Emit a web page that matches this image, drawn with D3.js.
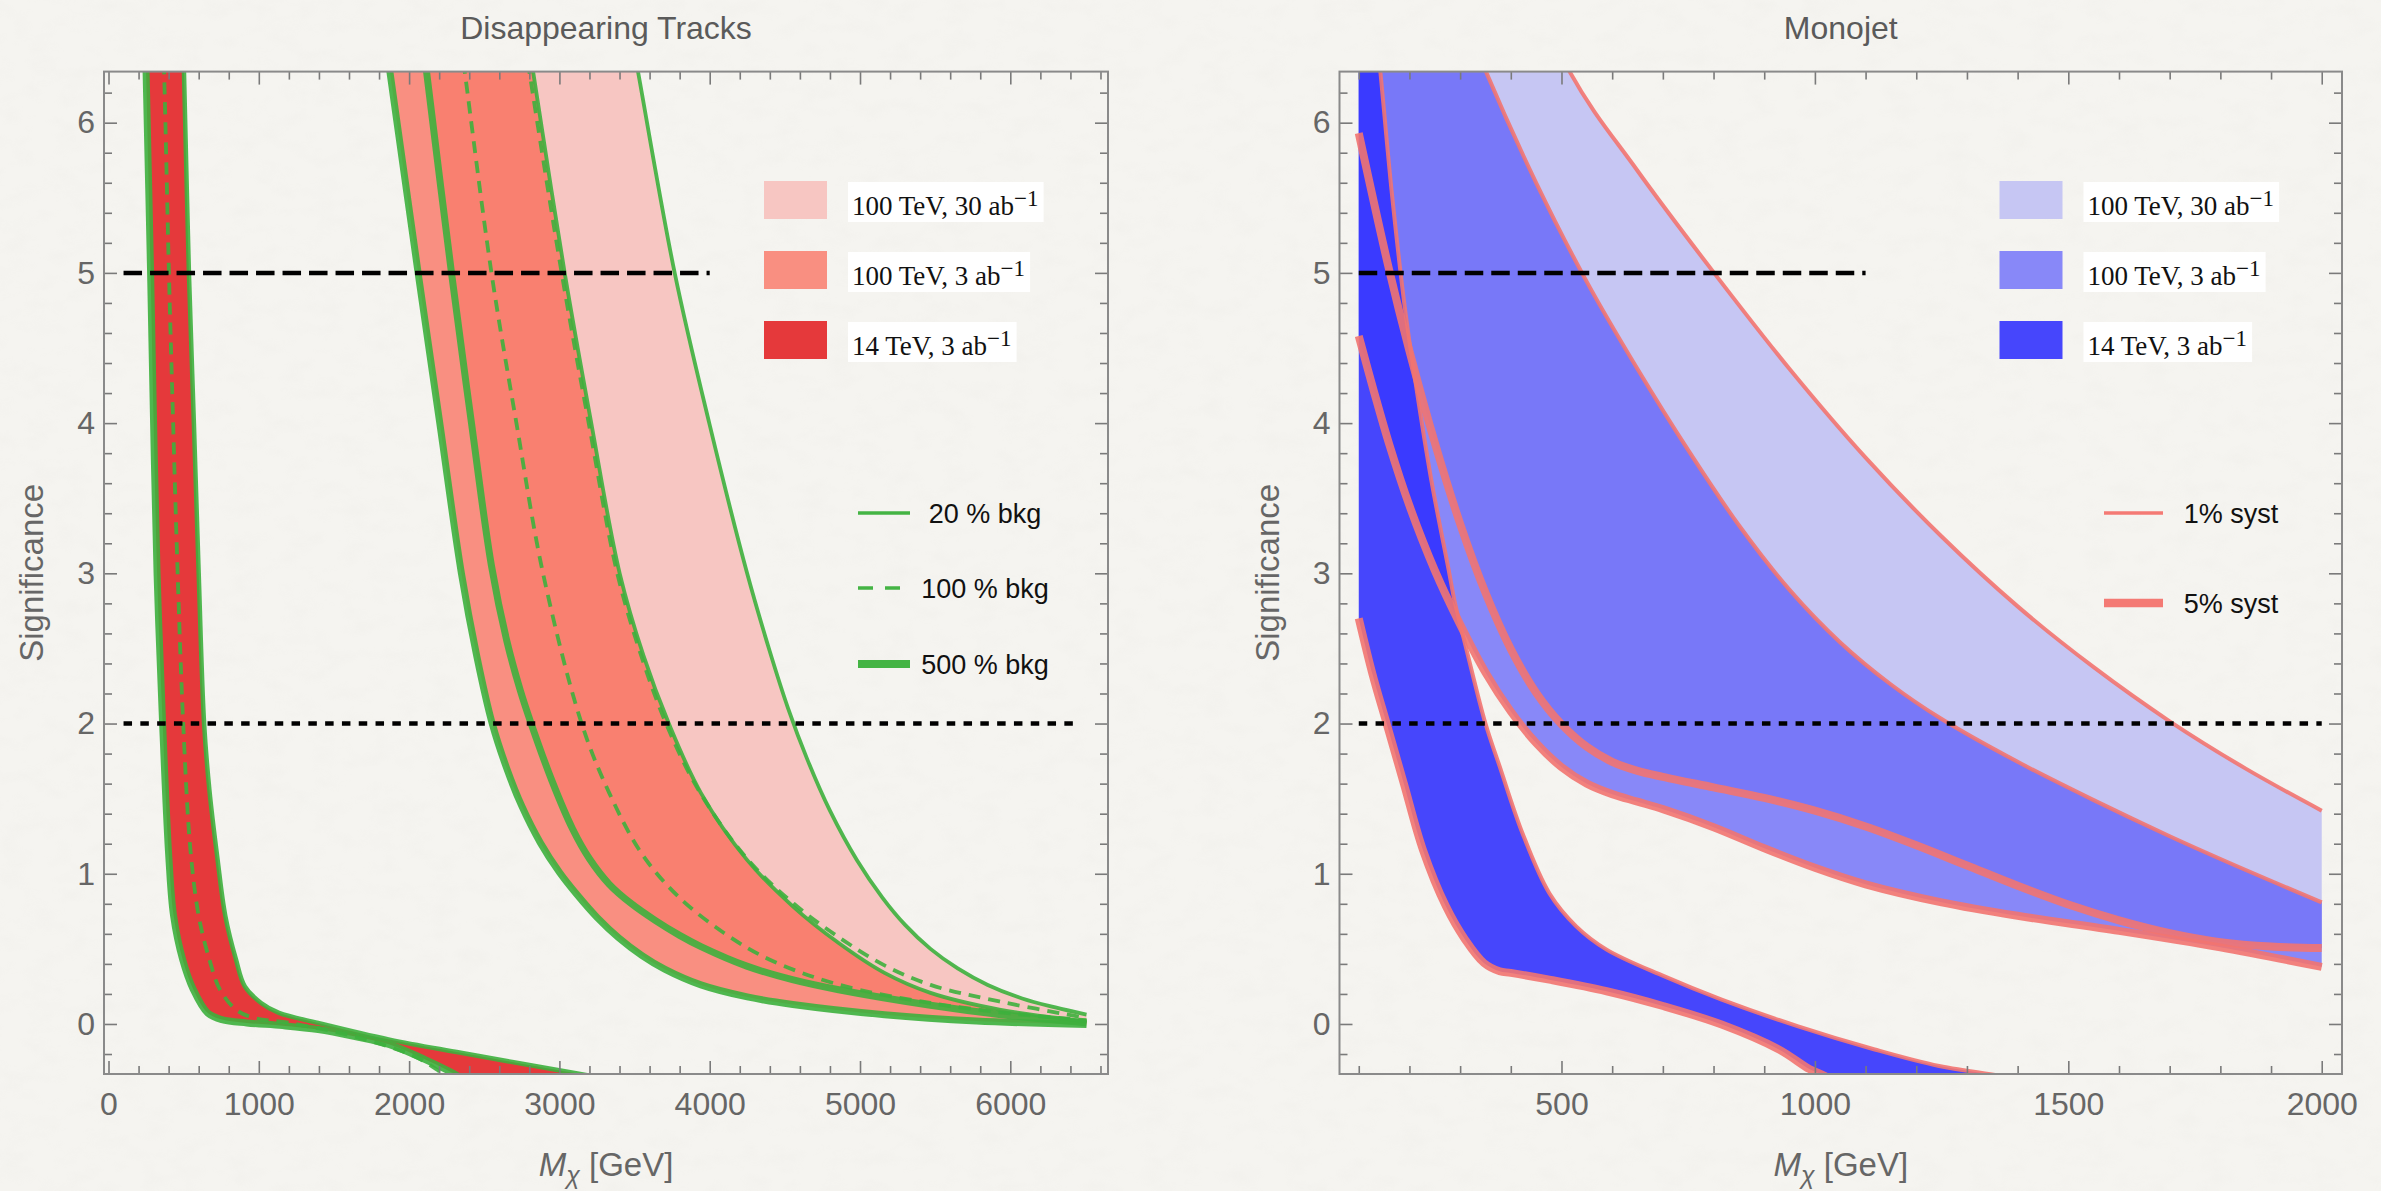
<!DOCTYPE html>
<html>
<head>
<meta charset="utf-8">
<script src="https://cdn.jsdelivr.net/npm/d3@7"></script>
<style>
  html, body { margin: 0; padding: 0; background: #f5f4f0; }
  svg { display: block; }
</style>
</head>
<body>
<svg id="chart" width="2381" height="1191"></svg>
<script>
// ---------------- axis ticks ----------------
const sigMajor = [0, 1, 2, 3, 4, 5, 6];
const sigMinor = d3.range(-0.2, 6.3, 0.2).map(v => +v.toFixed(1)).filter(v => !sigMajor.includes(v));
const tracksMassMajor = [0, 1000, 2000, 3000, 4000, 5000, 6000];
const tracksMassMinor = d3.range(200, 6700, 200).filter(v => v % 1000 !== 0);
const monojetMassMajor = [500, 1000, 1500, 2000];
const monojetMassMinor = d3.range(100, 2001, 100).filter(v => v % 500 !== 0);

// ---------------- Disappearing Tracks: [M_chi (GeV), significance] ----------------
const tracks14_bkg20  = [[488,6.8],[502,6.34],[535,5.0],[568,4.0],[600,3.0],[636,2.0],[672,1.55],[725,1.1],[777,0.72],[848,0.43],[907,0.25],[1015,0.14],[1134,0.074],[1395,0.007],[1870,-0.104],[2344,-0.192],[3120,-0.33],[3400,-0.38]];
const tracks14_bkg100 = [[355,6.8],[370,6.34],[402,5.0],[430,4.0],[460,3.0],[497,2.0],[545,1.16],[600,0.72],[671,0.43],[741,0.23],[848,0.096],[967,0.04],[1205,0.007],[1632,-0.082],[2036,-0.215],[2178,-0.30],[2260,-0.36]];
const tracks14_bkg500 = [[240,6.8],[250,6.34],[280,5.0],[300,4.0],[323,3.0],[360,2.0],[402,1.1],[433,0.72],[493,0.43],[564,0.23],[659,0.074],[754,0.029],[920,0.007],[1158,-0.011],[1395,-0.037],[1632,-0.082],[1870,-0.137],[2107,-0.237],[2297,-0.33],[2380,-0.38]];

const tracks100_3_bkg20  = [[2753,6.8],[2825,6.34],[3035,5.0],[3212,4.0],[3401,3.0],[3560,2.45],[3728,2.0],[3942,1.537],[4247,1.094],[4553,0.783],[4858,0.539],[5163,0.34],[5469,0.207],[5927,0.096],[6507,0.018]];
const tracks100_3_bkg100 = [[2309,6.8],[2370,6.34],[2548,5.0],[2714,4.0],[2891,3.0],[3148,2.0],[3332,1.537],[3545,1.138],[3789,0.85],[4095,0.606],[4400,0.428],[4858,0.262],[5469,0.14],[6079,0.062],[6507,0.025]];
const tracks100_3_bkg500 = [[1807,6.8],[1872,6.34],[2060,5.0],[2204,4.0],[2348,3.0],[2450,2.45],[2553,2.0],[2650,1.70],[2750,1.45],[2874,1.205],[3000,1.01],[3118,0.86],[3250,0.71],[3393,0.575],[3550,0.455],[3700,0.365],[3942,0.26],[4250,0.18],[4553,0.13],[5163,0.062],[5774,0.02],[6507,-0.004]];

const tracks100_30_bkg20  = [[3440,6.8],[3523,6.34],[3767,5.0],[3997,4.0],[4249,3.0],[4400,2.48],[4522,2.1],[4650,1.76],[4800,1.42],[4980,1.09],[5150,0.84],[5300,0.66],[5469,0.50],[5650,0.37],[5850,0.26],[6079,0.17],[6300,0.11],[6507,0.062]];
const tracks100_30_bkg100 = [[2730,6.8],[2800,6.34],[3015,5.0],[3195,4.0],[3385,3.0],[3545,2.45],[3710,2.0],[3930,1.55],[4240,1.11],[4560,0.80],[4870,0.57],[5163,0.39],[5469,0.26],[5927,0.15],[6507,0.04]];
const tracks100_30_bkg500 = [[2059,6.8],[2116,6.34],[2282,5.0],[2415,4.0],[2548,3.05],[2650,2.55],[2740,2.22],[2812,2.0],[2950,1.62],[3087,1.3],[3200,1.1],[3332,0.93],[3480,0.8],[3637,0.69],[3800,0.59],[3942,0.515],[4247,0.385],[4550,0.295],[4858,0.228],[5469,0.125],[6000,0.055],[6507,0.007]];

// ---------------- Monojet: [M_chi (GeV), significance] ----------------
const mono14_syst1  = [[100,8.0],[120,7.1],[142.6,6.34],[165.6,5.52],[192,4.74],[218,4.14],[245,3.585],[277,3.03],[290,2.8],[312,2.5],[350,2.0],[378,1.715],[423,1.27],[476,0.87],[529,0.65],[589,0.495],[702,0.318],[816,0.162],[967,-0.016],[1118,-0.17],[1245,-0.28],[1378,-0.35],[1450,-0.39]];
const mono14_syst5  = [[100,2.70],[127,2.33],[155,2.0],[189,1.60],[226.5,1.16],[272,0.783],[310,0.561],[347,0.406],[378,0.351],[400,0.34],[476,0.295],[589,0.218],[702,0.118],[816,-0.004],[929,-0.17],[989,-0.30],[1012,-0.333],[1050,-0.40]];
const mono3_syst1   = [[100,9.2],[250,7.2],[351,6.34],[450,5.60],[550,4.94],[650,4.36],[750,3.82],[850,3.32],[950,2.89],[1050,2.54],[1150,2.26],[1250,2.03],[1400,1.745],[1550,1.49],[1700,1.25],[1850,1.025],[2000,0.81]];
const mono3_syst5   = [[100,4.58],[130,4.21],[160,3.86],[200,3.45],[250,3.02],[300,2.66],[350,2.34],[400,2.08],[450,1.87],[500,1.71],[550,1.6],[600,1.53],[650,1.48],[700,1.43],[800,1.31],[900,1.17],[1000,1.04],[1100,0.93],[1250,0.81],[1400,0.72],[1600,0.62],[1800,0.51],[2000,0.38]];
const mono30_syst1  = [[100,10.0],[300,8.0],[516,6.34],[650,5.68],[801,5.0],[950,4.36],[1100,3.77],[1250,3.245],[1400,2.78],[1550,2.375],[1700,2.015],[1850,1.70],[2000,1.42]];
const mono30_syst5  = [[100,5.93],[160,5.02],[200,4.48],[250,3.87],[300,3.33],[350,2.87],[400,2.495],[450,2.205],[500,1.995],[550,1.845],[600,1.745],[650,1.685],[700,1.645],[800,1.575],[900,1.505],[1000,1.42],[1100,1.315],[1200,1.19],[1300,1.055],[1400,0.92],[1500,0.795],[1600,0.69],[1700,0.605],[1800,0.545],[1900,0.515],[2000,0.505]];

// ---------------- reference significance levels ----------------
const tracksDiscovery  = [[100,5],[4000,5]];
const tracksExclusion  = [[100,2],[6450,2]];
const monojetDiscovery = [[100,5],[1100,5]];
const monojetExclusion = [[100,2],[2000,2]];

// ---------------- legend text ----------------
const bandLabels = [
  {base: "100 TeV, 30 ab", sup: "\u22121"},
  {base: "100 TeV, 3 ab",  sup: "\u22121"},
  {base: "14 TeV, 3 ab",   sup: "\u22121"}
];
const bkgLabels  = ["20 % bkg", "100 % bkg", "500 % bkg"];
const systLabels = ["1% syst", "5% syst"];

// ---------------- styling ----------------
const redFills  = {b30: "#f7c6c2", b3: "#f98f81", b3and30: "#f98070", b14: "#e5393b"};
const blueFills = {b30: "#c6c6f3", b3: "#8888f8", b3and30: "#7878f8", b14: "#4646fc", b14and3: "#3a3aff"};
const green = "#3db03d";
const syst  = "#f27470";
const sans  = "Liberation Sans, Arial, Helvetica, sans-serif";
const serif = "Liberation Serif, Times New Roman, serif";

const svg = d3.select("#chart");
const defs = svg.append("defs");

// faint paper grain for the page background
const grain = defs.append("filter").attr("id", "grain").attr("x", 0).attr("y", 0).attr("width", 1).attr("height", 1);
grain.append("feTurbulence").attr("type", "fractalNoise").attr("baseFrequency", "0.035 0.06").attr("numOctaves", 3).attr("seed", 7).attr("result", "n");
grain.append("feColorMatrix").attr("in", "n").attr("type", "matrix")
  .attr("values", "0 0 0 0 0.55  0 0 0 0 0.54  0 0 0 0 0.5  0 0 0 -0.9 0.5");
svg.append("rect").attr("width", 2381).attr("height", 1191).attr("fill", "#f5f4f0");
svg.append("rect").attr("width", 2381).attr("height", 1191).attr("filter", "url(#grain)").attr("opacity", 0.11);

const yScale = d3.scaleLinear().domain([-0.333, 6.34]).range([1074, 71.6]);
const smooth = d3.curveCatmullRom.alpha(0.5);

function makeLine(x) {
  return d3.line().x(d => x(d[0])).y(d => yScale(d[1])).curve(smooth);
}
function bandPath(line, upper, lower) {
  return line(upper) + line(lower.slice().reverse()).replace(/^M/, "L") + "Z";
}

function frameAndAxes(g, x, major, minor) {
  const [x0, x1] = x.range();
  const [y0, y1] = yScale.range();
  const styleAxis = sel => {
    sel.select(".domain").remove();
    sel.selectAll(".tick line").attr("stroke", "#7a7a7a").attr("stroke-width", 1.6);
    sel.selectAll(".tick text").attr("fill", "#666").attr("font-family", sans).attr("font-size", 32);
  };
  // bottom
  g.append("g").attr("transform", `translate(0,${y0})`)
    .call(d3.axisBottom(x).tickValues(major).tickSize(-13).tickPadding(18).tickFormat(d3.format("d"))).call(styleAxis);
  g.append("g").attr("transform", `translate(0,${y0})`)
    .call(d3.axisBottom(x).tickValues(minor).tickSize(-8).tickFormat("")).call(styleAxis);
  // top
  g.append("g").attr("transform", `translate(0,${y1})`)
    .call(d3.axisTop(x).tickValues(major).tickSize(-13).tickFormat("")).call(styleAxis);
  g.append("g").attr("transform", `translate(0,${y1})`)
    .call(d3.axisTop(x).tickValues(minor).tickSize(-8).tickFormat("")).call(styleAxis);
  // left
  g.append("g").attr("transform", `translate(${x0},0)`)
    .call(d3.axisLeft(yScale).tickValues(sigMajor).tickSize(-13).tickPadding(9).tickFormat(d3.format("d"))).call(styleAxis);
  g.append("g").attr("transform", `translate(${x0},0)`)
    .call(d3.axisLeft(yScale).tickValues(sigMinor).tickSize(-8).tickFormat("")).call(styleAxis);
  // right
  g.append("g").attr("transform", `translate(${x1},0)`)
    .call(d3.axisRight(yScale).tickValues(sigMajor).tickSize(-13).tickFormat("")).call(styleAxis);
  g.append("g").attr("transform", `translate(${x1},0)`)
    .call(d3.axisRight(yScale).tickValues(sigMinor).tickSize(-8).tickFormat("")).call(styleAxis);
  // frame
  g.append("rect").attr("x", x0).attr("y", y1).attr("width", x1 - x0).attr("height", y0 - y1)
    .attr("fill", "none").attr("stroke", "#8a8a8a").attr("stroke-width", 2);
}

function labels(g, x, title) {
  const [x0, x1] = x.range();
  const cx = (x0 + x1) / 2;
  const cy = (yScale.range()[0] + yScale.range()[1]) / 2;
  g.append("text").attr("x", cx).attr("y", 39).attr("text-anchor", "middle")
    .attr("font-family", sans).attr("font-size", 32).attr("fill", "#5a5a5a").text(title);
  const xl = g.append("text").attr("x", cx).attr("y", 1176).attr("text-anchor", "middle")
    .attr("font-family", sans).attr("font-size", 33).attr("fill", "#666");
  xl.append("tspan").attr("font-style", "italic").text("M");
  xl.append("tspan").attr("font-style", "italic").attr("font-size", 25).attr("dy", 8).text("\u03c7");
  xl.append("tspan").attr("dy", -8).text(" [GeV]");
  g.append("text").attr("transform", `translate(${x0 - 61},${cy}) rotate(-90)`).attr("text-anchor", "middle")
    .attr("font-family", sans).attr("font-size", 33).attr("fill", "#666").text("Significance");
}

function bandLegend(g, dx, fills) {
  const rows = [181, 251, 321];
  const cols = [fills.b30, fills.b3, fills.b14];
  bandLabels.forEach((lab, i) => {
    g.append("rect").attr("x", 764 + dx).attr("y", rows[i]).attr("width", 63).attr("height", 38).attr("fill", cols[i]);
    const box = g.append("rect").attr("x", 848 + dx).attr("y", rows[i] + 1).attr("height", 40).attr("fill", "#ffffff");
    const t = g.append("text").attr("x", 852 + dx).attr("y", rows[i] + 34)
      .attr("font-family", serif).attr("font-size", 27).attr("fill", "#111");
    t.append("tspan").text(lab.base);
    t.append("tspan").attr("font-size", 23).attr("dy", -9).text(lab.sup);
    const w = t.node().getBBox().width;
    box.attr("width", w + 9);
  });
}

function drawPanel(cfg) {
  const x = d3.scaleLinear().domain(cfg.domain).range(cfg.range);
  const line = makeLine(x);
  const [x0, x1] = x.range();
  const [y0, y1] = yScale.range();
  defs.append("clipPath").attr("id", cfg.id + "-area")
    .append("rect").attr("x", x0).attr("y", y1).attr("width", x1 - x0).attr("height", y0 - y1);
  const g = svg.append("g");
  const plot = g.append("g").attr("clip-path", `url(#${cfg.id}-area)`);

  // bands, with their overlaps shaded separately
  cfg.bands.forEach(b => {
    b.d = bandPath(line, b.upper, b.lower);
    defs.append("clipPath").attr("id", `${cfg.id}-${b.key}`).append("path").attr("d", b.d);
  });
  cfg.fillOrder.forEach(f => {
    const band = cfg.bands.find(b => b.key === f.band);
    const p = plot.append("path").attr("d", band.d).attr("fill", f.color);
    if (f.within) p.attr("clip-path", `url(#${cfg.id}-${f.within})`);
  });

  // boundary curves
  cfg.curves.forEach(c => {
    plot.append("path").attr("d", line(c.pts)).attr("fill", "none")
      .attr("stroke", c.color).attr("stroke-width", c.width).attr("stroke-opacity", 0.9)
      .attr("stroke-dasharray", c.dash || null).attr("stroke-linejoin", "round");
  });

  // significance thresholds
  const straight = d3.line().x(d => x(d[0])).y(d => yScale(d[1]));
  plot.append("path").attr("d", straight(cfg.discovery))
    .attr("stroke", "#000").attr("stroke-width", 4.5).attr("stroke-dasharray", "18.5,8").attr("fill", "none");
  plot.append("path").attr("d", straight(cfg.exclusion))
    .attr("stroke", "#000").attr("stroke-width", 4.5).attr("stroke-dasharray", "8.5,8.3").attr("fill", "none");

  frameAndAxes(g, x, cfg.major, cfg.minor);
  labels(g, x, cfg.title);
  return g;
}

// ---------------- Disappearing Tracks ----------------
const left = drawPanel({
  id: "tracks", title: "Disappearing Tracks",
  domain: [-30, 6650], range: [104, 1108],
  major: tracksMassMajor, minor: tracksMassMinor,
  bands: [
    {key: "b30", upper: tracks100_30_bkg20, lower: tracks100_30_bkg500},
    {key: "b3",  upper: tracks100_3_bkg20,  lower: tracks100_3_bkg500},
    {key: "b14", upper: tracks14_bkg20,     lower: tracks14_bkg500}
  ],
  fillOrder: [
    {band: "b30", color: redFills.b30},
    {band: "b3",  color: redFills.b3},
    {band: "b30", color: redFills.b3and30, within: "b3"},
    {band: "b14", color: redFills.b14}
  ],
  curves: [
    {pts: tracks100_30_bkg500, color: green, width: 7},
    {pts: tracks100_3_bkg500,  color: green, width: 7},
    {pts: tracks14_bkg500,     color: green, width: 7},
    {pts: tracks100_30_bkg100, color: green, width: 3.8, dash: "12,8"},
    {pts: tracks100_3_bkg100,  color: green, width: 3.8, dash: "12,8"},
    {pts: tracks14_bkg100,     color: green, width: 3.8, dash: "12,8"},
    {pts: tracks100_30_bkg20,  color: green, width: 3.8},
    {pts: tracks100_3_bkg20,   color: green, width: 3.8},
    {pts: tracks14_bkg20,      color: green, width: 4.5}
  ],
  discovery: tracksDiscovery, exclusion: tracksExclusion
});
bandLegend(left, 0, redFills);
// background-fraction legend
const bkgRows = [513, 588, 664];
const bkgStyles = [{w: 3.5, dash: null}, {w: 3.5, dash: "15,12"}, {w: 8, dash: null}];
bkgLabels.forEach((lab, i) => {
  left.append("line").attr("x1", 858).attr("x2", 910).attr("y1", bkgRows[i]).attr("y2", bkgRows[i])
    .attr("stroke", "#44b444").attr("stroke-width", bkgStyles[i].w).attr("stroke-dasharray", bkgStyles[i].dash);
  left.append("text").attr("x", 985).attr("y", bkgRows[i] + 9.5).attr("text-anchor", "middle")
    .attr("font-family", sans).attr("font-size", 27).attr("fill", "#111").text(lab);
});

// ---------------- Monojet ----------------
const right = drawPanel({
  id: "monojet", title: "Monojet",
  domain: [62, 2040], range: [1339.5, 2342],
  major: monojetMassMajor, minor: monojetMassMinor,
  bands: [
    {key: "b30", upper: mono30_syst1, lower: mono30_syst5},
    {key: "b3",  upper: mono3_syst1,  lower: mono3_syst5},
    {key: "b14", upper: mono14_syst1, lower: mono14_syst5}
  ],
  fillOrder: [
    {band: "b30", color: blueFills.b30},
    {band: "b3",  color: blueFills.b3},
    {band: "b30", color: blueFills.b3and30, within: "b3"},
    {band: "b14", color: blueFills.b14},
    {band: "b14", color: blueFills.b14and3, within: "b3"}
  ],
  curves: [
    {pts: mono30_syst5, color: syst, width: 8},
    {pts: mono3_syst5,  color: syst, width: 8},
    {pts: mono14_syst5, color: syst, width: 8},
    {pts: mono30_syst1, color: syst, width: 4},
    {pts: mono3_syst1,  color: syst, width: 4},
    {pts: mono14_syst1, color: syst, width: 4}
  ],
  discovery: monojetDiscovery, exclusion: monojetExclusion
});
bandLegend(right, 1235.5, blueFills);
const systRows = [513, 603];
const systWidths = [3.5, 8.5];
systLabels.forEach((lab, i) => {
  right.append("line").attr("x1", 2104).attr("x2", 2163).attr("y1", systRows[i]).attr("y2", systRows[i])
    .attr("stroke", "#f47a74").attr("stroke-width", systWidths[i]);
  right.append("text").attr("x", 2231).attr("y", systRows[i] + 9.5).attr("text-anchor", "middle")
    .attr("font-family", sans).attr("font-size", 27).attr("fill", "#111").text(lab);
});
</script>
</body>
</html>
